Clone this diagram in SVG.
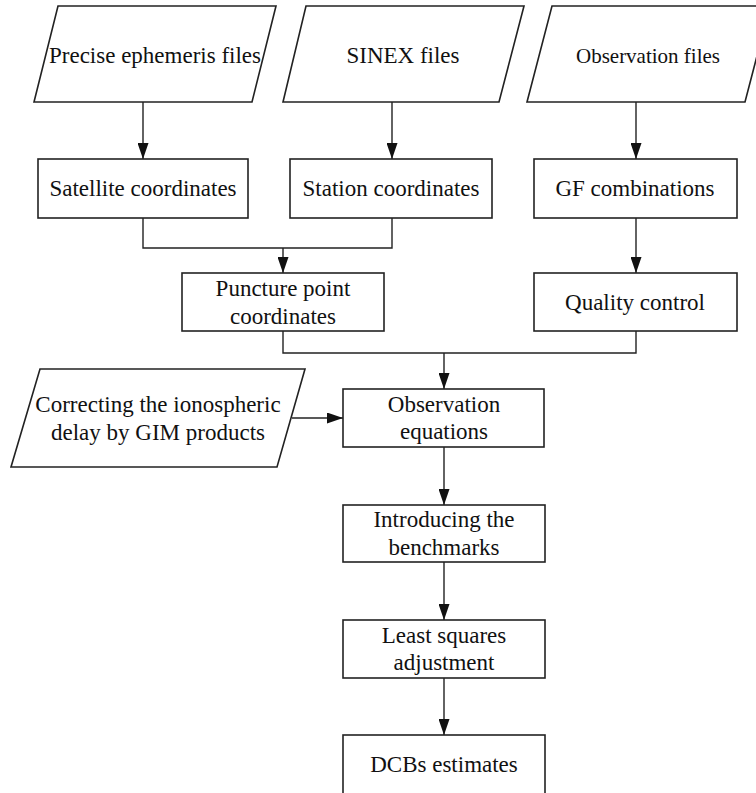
<svg xmlns="http://www.w3.org/2000/svg" width="756" height="793" viewBox="0 0 756 793">
<style>
.s{fill:#fff;stroke:#222;stroke-width:1.6}
.c{fill:none;stroke:#222;stroke-width:1.4}
text{font-family:"Liberation Serif","Times New Roman",serif;font-size:23px;fill:#111;text-anchor:middle}
</style>
<defs>
<marker id="a" markerUnits="userSpaceOnUse" markerWidth="16" markerHeight="11" refX="10" refY="5" orient="auto" viewBox="0 0 10 10" preserveAspectRatio="none">
<path d="M0,0 L10,5 L0,10 Z" fill="#111"/>
</marker>
</defs>
<rect width="756" height="793" fill="#fff"/>
<g id="connectors">
<line class="c" x1="143" y1="102" x2="143" y2="159" marker-end="url(#a)"/>
<line class="c" x1="392" y1="102" x2="392" y2="159" marker-end="url(#a)"/>
<line class="c" x1="636" y1="102" x2="636" y2="159" marker-end="url(#a)"/>
<polyline class="c" points="143,218 143,248 392,248 392,218"/>
<line class="c" x1="283" y1="248" x2="283" y2="273" marker-end="url(#a)"/>
<line class="c" x1="636" y1="218" x2="636" y2="273" marker-end="url(#a)"/>
<polyline class="c" points="283,331 283,353 636,353 636,331"/>
<line class="c" x1="444" y1="353" x2="444" y2="389" marker-end="url(#a)"/>
<line class="c" x1="292" y1="418" x2="343" y2="418" marker-end="url(#a)"/>
<line class="c" x1="444" y1="447" x2="444" y2="505" marker-end="url(#a)"/>
<line class="c" x1="444" y1="562" x2="444" y2="620" marker-end="url(#a)"/>
<line class="c" x1="444" y1="678" x2="444" y2="735" marker-end="url(#a)"/>
</g>
<g id="precise">
<polygon class="s" points="58,6 276,6 252,102 34,102"/>
<text x="155" y="63">Precise ephemeris files</text>
</g>
<g id="sinex">
<polygon class="s" points="306,6 524,6 499,102 283,102"/>
<text x="403" y="63">SINEX files</text>
</g>
<g id="obsfiles">
<polygon class="s" points="552,6 770,6 745,102 527,102"/>
<text x="648" y="63" style="font-size:21px">Observation files</text>
</g>
<g id="satellite">
<rect class="s" x="38" y="159" width="210" height="59"/>
<text x="143" y="196">Satellite coordinates</text>
</g>
<g id="station">
<rect class="s" x="290" y="159" width="202" height="59"/>
<text x="391" y="196">Station coordinates</text>
</g>
<g id="gf">
<rect class="s" x="534" y="159" width="203" height="59"/>
<text x="635" y="196">GF combinations</text>
</g>
<g id="puncture">
<rect class="s" x="182" y="273" width="202" height="58"/>
<text x="283" y="296">Puncture point</text>
<text x="283" y="324">coordinates</text>
</g>
<g id="quality">
<rect class="s" x="534" y="273" width="203" height="58"/>
<text x="635" y="310">Quality control</text>
</g>
<g id="correcting">
<polygon class="s" points="40,369 305,369 277,467 11,467"/>
<text x="158" y="412">Correcting the ionospheric</text>
<text x="158" y="440">delay by GIM products</text>
</g>
<g id="obseq">
<rect class="s" x="343" y="389" width="201" height="58"/>
<text x="444" y="412">Observation</text>
<text x="444" y="439">equations</text>
</g>
<g id="bench">
<rect class="s" x="343" y="505" width="202" height="57"/>
<text x="444" y="527">Introducing the</text>
<text x="444" y="555">benchmarks</text>
</g>
<g id="lsq">
<rect class="s" x="343" y="620" width="202" height="58"/>
<text x="444" y="643">Least squares</text>
<text x="444" y="670">adjustment</text>
</g>
<g id="dcb">
<rect class="s" x="343" y="735" width="202" height="60"/>
<text x="444" y="772">DCBs estimates</text>
</g>
</svg>
